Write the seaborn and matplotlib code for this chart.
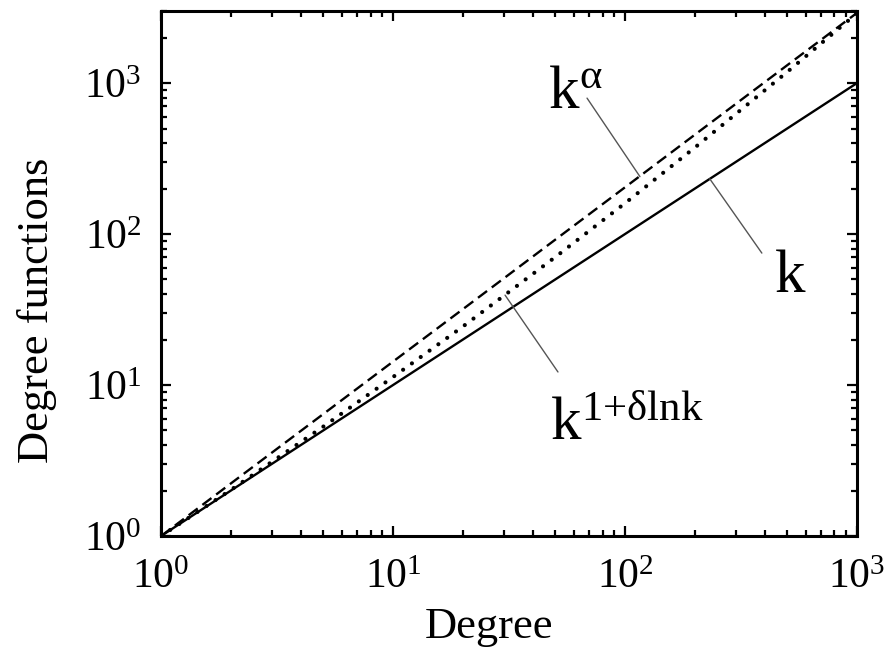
import numpy as np
import pandas as pd
import matplotlib
matplotlib.use("Agg")
import matplotlib.pyplot as plt
import seaborn as sns
from matplotlib.ticker import LogLocator, LogFormatterMathtext, NullFormatter

# Degree values and the three degree functions evaluated at them
degree = [1, 2, 5, 10, 20, 50, 100, 200, 500, 1000]
f_linear = [1, 2, 5, 10, 20, 50, 100, 200, 500, 1000]           # k
f_power = [1, 2.23, 6.42, 14.3, 31.8, 91.7, 204, 455, 1312, 2917]  # k^alpha
f_loglin = [1, 2.02, 5.30, 11.3, 24.4, 70.3, 160, 374, 1184, 2900]  # k^(1+delta ln k)

x_ticks = [1, 10, 100, 1000]
y_ticks = [1, 10, 100, 1000]

sns.set_theme(style="ticks")
plt.rcParams["font.family"] = ["Liberation Serif", "DejaVu Serif"]
plt.rcParams["mathtext.fontset"] = "custom"
plt.rcParams["mathtext.rm"] = "Liberation Serif"
plt.rcParams["mathtext.it"] = "Liberation Serif"
plt.rcParams["mathtext.bf"] = "Liberation Serif:bold"
plt.rcParams["text.color"] = "black"
plt.rcParams["axes.labelcolor"] = "black"
plt.rcParams["xtick.color"] = "black"
plt.rcParams["ytick.color"] = "black"

df = pd.DataFrame({
    "degree": degree * 3,
    "value": f_linear + f_power + f_loglin,
    "curve": ["k"] * len(degree) + ["power"] * len(degree) + ["loglin"] * len(degree),
})

fig = plt.figure(figsize=(8.95, 6.5), dpi=100)
ax = fig.add_axes([0.18, 0.1754, 0.7775, 0.8076])

sns.lineplot(data=df[df.curve == "k"], x="degree", y="value", ax=ax,
             color="black", lw=1.7, linestyle="-")
sns.lineplot(data=df[df.curve == "power"], x="degree", y="value", ax=ax,
             color="black", lw=1.7, linestyle=(0, (4.8, 2.5)), dash_capstyle="butt")
sns.lineplot(data=df[df.curve == "loglin"], x="degree", y="value", ax=ax,
             color="black", lw=3.0, linestyle=(0, (0.01, 2.6)), dash_capstyle="round")

ax.set_xscale("log")
ax.set_yscale("log")
ax.set_xlim(1, 1000)
ax.set_ylim(1, 3000)

ax.xaxis.set_major_locator(LogLocator(base=10, subs=(1.0,)))
ax.yaxis.set_major_locator(LogLocator(base=10, subs=(1.0,)))
ax.xaxis.set_minor_locator(LogLocator(base=10, subs=np.arange(2, 10)))
ax.yaxis.set_minor_locator(LogLocator(base=10, subs=np.arange(2, 10)))
ax.set_xticks(x_ticks)
ax.set_yticks(y_ticks)
ax.xaxis.set_major_formatter(LogFormatterMathtext())
ax.yaxis.set_major_formatter(LogFormatterMathtext())
ax.xaxis.set_minor_formatter(NullFormatter())
ax.yaxis.set_minor_formatter(NullFormatter())

ax.tick_params(which="both", direction="in", top=True, right=True,
               color="black", width=1.6)
ax.tick_params(which="major", length=7, labelsize=30)
ax.tick_params(axis="x", which="major", pad=16)
ax.tick_params(axis="y", which="major", pad=14)
ax.tick_params(which="minor", length=4)
for sp in ax.spines.values():
    sp.set_linewidth(2.2)
    sp.set_color("black")

ax.set_xlabel("Degree", fontsize=32)
ax.set_ylabel("Degree functions", fontsize=32)
ax.xaxis.set_label_coords(0.471, -0.135)
ax.yaxis.set_label_coords(-0.15, 0.43)

# Curve labels with thin leader lines
lead = dict(color="#555555", lw=1.0)
ax.plot([68.6, 116], [795, 240], **lead)
ax.text(46.6, 683, r"$\mathrm{k}^{\alpha}$", fontsize=44, ha="left", va="baseline")

ax.plot([232, 389], [232, 74.8], **lead)
ax.text(443, 41.3, "k", fontsize=44, ha="left", va="baseline")

ax.plot([30.4, 51.4], [39.4, 12.2], **lead)
ax.text(47.5, 4.32, r"$\mathrm{k}^{\mathrm{1{+}\delta lnk}}$", fontsize=44,
        ha="left", va="baseline")

fig.savefig("out.png", dpi=100, facecolor="white")
